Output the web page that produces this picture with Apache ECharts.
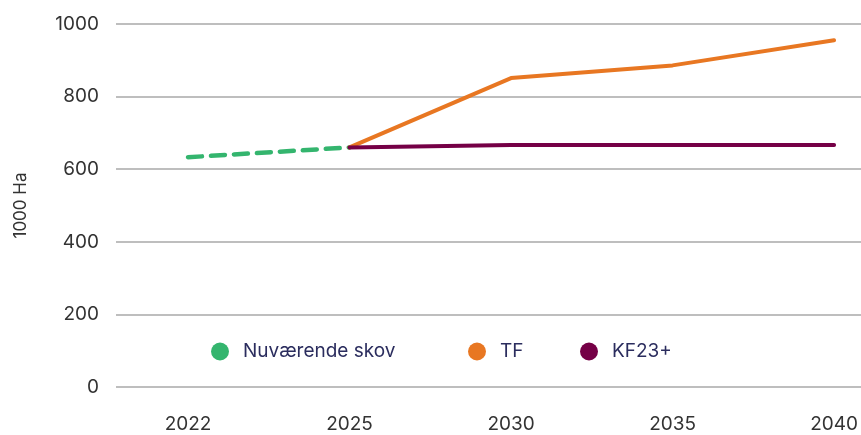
<!DOCTYPE html>
<html>
<head>
<meta charset="utf-8">
<script src="https://cdn.jsdelivr.net/npm/echarts@6/dist/echarts.min.js"></script>
<style>
html,body{margin:0;padding:0;background:#fff;}
#main{width:861px;height:435px;}
</style>
</head>
<body>
<div id="main"></div>
<script>
//årstal på x-aksen
var years=['2022','2025','2030','2035','2040'];
//serier (1000 Ha)
var nuvaerende=[633,660,'-','-','-'];
var tf=['-',660,851,886,955];
var kf23=['-',660,667,667,667];
var yTicks=[0,200,400,600,800,1000];
var names=['Nuværende skov','TF','KF23+'];

var font='Inter';
var txt='#333';

//en legende pr. serie, så de kan placeres hver for sig
function legend(name,left){
    return {
        left:left,
        top:342,
        padding:0,
        icon:'circle',
        itemWidth:18,
        itemHeight:18,
        textStyle:{color:'#2b2d5e',fontSize:19,fontFamily:font,padding:[0,0,0,9]},
        data:[name]
    };
}

var myChart=echarts.init(document.getElementById('main'));
option={
    animation:false,
    grid:[
        {left:116,right:0,top:24,bottom:48},   //kun gitterlinjer
        {left:188,right:26,top:24,bottom:48}   //data
    ],
    xAxis:[
        {gridIndex:0,type:'category',data:years,show:false},
        {
            gridIndex:1,
            type:'category',
            data:years,
            boundaryGap:false,
            axisLine:{show:false},
            axisTick:{show:false},
            axisLabel:{color:txt,fontSize:19,fontFamily:font,margin:28}
        }
    ],
    yAxis:[
        {
            gridIndex:0,
            type:'value',
            min:yTicks[0],
            max:yTicks[yTicks.length-1],
            interval:200,
            name:'1000 Ha',
            nameLocation:'middle',
            nameGap:87,
            nameTextStyle:{color:txt,fontSize:17,fontFamily:font},
            axisLine:{show:false},
            axisTick:{show:false},
            axisLabel:{color:txt,fontSize:19,fontFamily:font,margin:17,formatter:function(v){return String(v);}},
            splitLine:{lineStyle:{color:'#a9a9a9',width:1.5}}
        },
        {
            gridIndex:1,
            type:'value',
            min:yTicks[0],
            max:yTicks[yTicks.length-1],
            interval:200,
            show:false,
            splitLine:{show:false}
        }
    ],
    legend:[legend(names[0],211),legend(names[1],468),legend(names[2],580)],
    series:[
        {
            name:names[0],
            type:'line',
            xAxisIndex:1,yAxisIndex:1,
            data:nuvaerende,
            symbol:'none',
            color:'#34b56e',
            lineStyle:{width:4.5,type:[14,9],cap:'round'}
        },
        {
            name:names[1],
            type:'line',
            xAxisIndex:1,yAxisIndex:1,
            data:tf,
            symbol:'none',
            color:'#e87722',
            lineStyle:{width:4,cap:'round'}
        },
        {
            name:names[2],
            type:'line',
            xAxisIndex:1,yAxisIndex:1,
            data:kf23,
            symbol:'none',
            color:'#750046',
            lineStyle:{width:4,cap:'round'}
        }
    ]
};
myChart.setOption(option);
</script>
</body>
</html>
